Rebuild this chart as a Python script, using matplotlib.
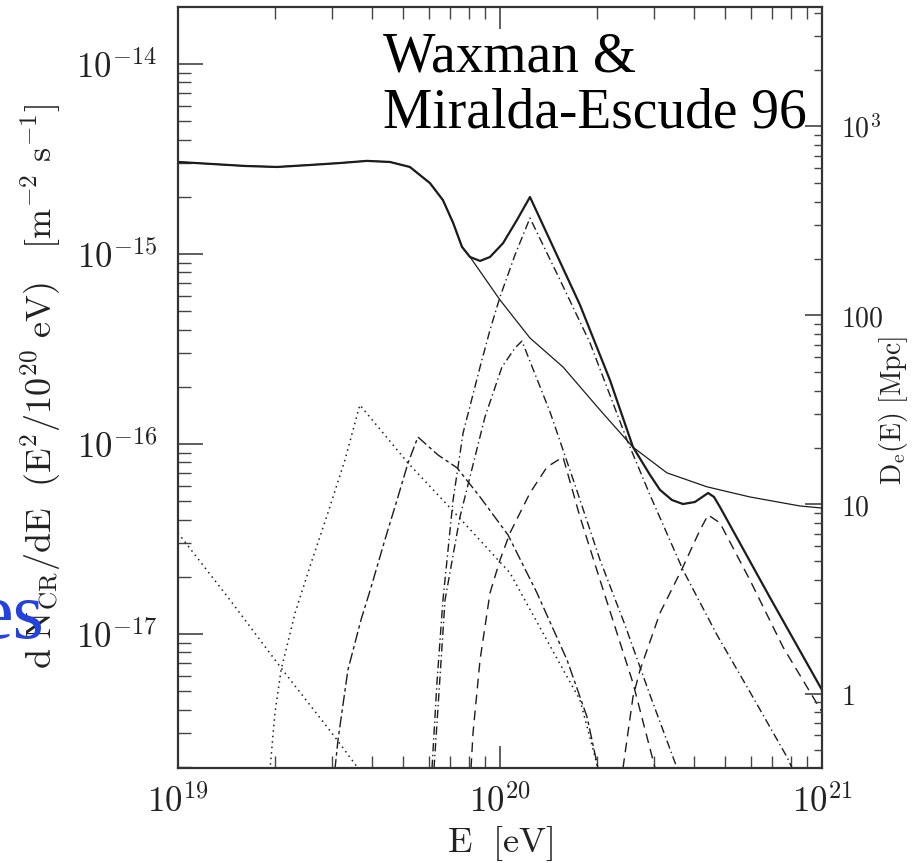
import numpy as np
import matplotlib.pyplot as plt
from matplotlib.ticker import NullFormatter

plt.rcParams['mathtext.fontset'] = 'cm'

# energies in units of 1e20 eV, fluxes in units of 1e-16 m^-2 s^-1

# total spectrum (thick solid)
E_tot = [0.100, 0.126, 0.162, 0.203, 0.257, 0.318, 0.386, 0.455, 0.525, 0.606, 0.665, 0.715,
         0.762, 0.807, 0.867, 0.931, 1.022, 1.129, 1.239, 1.772, 2.195, 2.588, 2.923, 3.14,
         3.42, 3.70, 4.03, 4.43, 4.62, 4.82, 6.90, 10.0]
F_tot = [30.5, 29.8, 29.05, 28.7, 29.4, 30.1, 30.9, 30.5, 28.7, 23.6, 19.2, 14.6,
         10.9, 9.64, 9.19, 9.64, 11.4, 15.1, 19.95, 5.39, 2.17, 0.964, 0.687, 0.573,
         0.507, 0.483, 0.495, 0.552, 0.526, 0.466, 0.155, 0.0507]

# energy loss distance D_e(E) in Mpc (thin solid, right axis)
E_dist = [0.100, 0.126, 0.162, 0.203, 0.257, 0.318, 0.386, 0.455, 0.525, 0.606, 0.665, 0.715,
          0.762, 0.807, 1.000, 1.239, 1.569, 2.045, 2.588, 3.30, 4.395, 5.975, 8.545, 10.0]
D_dist = [649, 633, 618, 611, 626, 641, 657, 649, 611, 502, 408, 309,
          230, 204, 120.8, 76.0, 53.4, 31.6, 20.1, 14.7, 12.4, 10.96, 9.82, 9.58]

# single-source contributions
E_c1 = [0.100, 0.145, 0.209, 0.307, 0.362, 0.381]
F_c1 = [0.340, 0.151, 0.0662, 0.0287, 0.0197, 0.0175]

E_c2 = [0.193, 0.200, 0.209, 0.231, 0.259, 0.292, 0.330, 0.367, 0.518, 0.642, 0.768, 1.074,
        1.482, 1.772, 2.015]
F_c2 = [0.0192, 0.0384, 0.0646, 0.129, 0.236, 0.433, 0.824, 1.604, 0.794, 0.539, 0.389, 0.2095,
        0.0775, 0.0449, 0.0197]

E_c3 = [0.307, 0.314, 0.337, 0.370, 0.398, 0.439, 0.482, 0.518, 0.556, 0.642, 0.736, 0.867,
        1.059, 1.303, 1.615, 1.863, 2.015]
F_c3 = [0.0192, 0.0277, 0.0646, 0.1185, 0.1768, 0.3125, 0.526, 0.794, 1.088, 0.875, 0.748, 0.526,
        0.332, 0.1643, 0.0730, 0.0366, 0.0197]

E_c4 = [0.615, 0.637, 0.665, 0.715, 0.768, 0.867, 0.931, 1.0, 1.113, 1.239, 1.536, 1.904, 2.48,
        2.923, 3.70, 4.72, 5.975, 7.785, 8.07]
F_c4 = [0.0197, 0.0552, 0.151, 0.507, 1.143, 2.54, 3.98, 5.94, 9.88, 15.46, 7.30, 3.40, 1.05,
        0.539, 0.2172, 0.0988, 0.0495, 0.0225, 0.0197]

E_c5 = [0.624, 0.675, 0.751, 0.898, 1.014, 1.113, 1.170, 1.430, 1.710, 2.045, 2.444, 2.923, 3.546]
F_c5 = [0.0197, 0.151, 0.413, 1.387, 2.54, 3.20, 3.48, 1.474, 0.608, 0.245, 0.1115, 0.0477, 0.0197]

E_c6 = [0.813, 0.8245, 0.867, 0.931, 1.0, 1.074, 1.239, 1.400, 1.569, 1.772, 2.045, 2.588, 3.03]
F_c6 = [0.0197, 0.0301, 0.0730, 0.1643, 0.245, 0.340, 0.552, 0.757, 0.854, 0.413, 0.192, 0.0552,
        0.0197]

E_c7 = [2.41, 2.588, 2.722, 3.14, 3.70, 4.18, 4.43, 4.82, 5.975, 7.565, 9.376, 10.0]
F_c7 = [0.0197, 0.0466, 0.0646, 0.129, 0.2253, 0.3527, 0.423, 0.384, 0.192, 0.0854, 0.0466, 0.0389]

x_ticks = [1e19, 1e20, 1e21]
x_labels = [r'$10^{19}$', r'$10^{20}$', r'$10^{21}$']
y_ticks = [1e-17, 1e-16, 1e-15, 1e-14]
y_labels = [r'$10^{-17}$', r'$10^{-16}$', r'$10^{-15}$', r'$10^{-14}$']
d_ticks = [1, 10, 100, 1000]
d_labels = [r'$1$', r'$10$', r'$100$', r'$10^3$']

ink = '#1c1c1c'
fig = plt.figure(figsize=(9.21, 8.63), dpi=100)
ax = fig.add_axes([178/921, 95/863, 644/921, 761/863])
ax.set_xscale('log')
ax.set_yscale('log')

def xy(E, F):
    return np.array(E) * 1e20, np.array(F) * 1e-16

ax.plot(*xy(E_tot, F_tot), color=ink, lw=1.6)
ax.plot(*xy(E_c1, F_c1), color=ink, lw=1.1, ls=(0, (1, 2.6)))
ax.plot(*xy(E_c2, F_c2), color=ink, lw=1.1, ls=(0, (1, 2.6)))
ax.plot(*xy(E_c3, F_c3), color=ink, lw=1.0, ls=(0, (8, 2.5, 2.5, 2.5)))
ax.plot(*xy(E_c4, F_c4), color=ink, lw=1.0, ls=(0, (6, 2.5, 1, 2.5)))
ax.plot(*xy(E_c5, F_c5), color=ink, lw=1.0, ls=(0, (6, 2.5, 1, 2.5)))
ax.plot(*xy(E_c6, F_c6), color=ink, lw=1.0, ls=(0, (7, 4.5)))
ax.plot(*xy(E_c7, F_c7), color=ink, lw=1.0, ls=(0, (7, 4.5)))

ax.set_xlim(1e19, 1e21)
ax.set_ylim(1.97e-18, 1.995e-14)
ax.set_xticks(x_ticks, labels=x_labels)
ax.set_yticks(y_ticks, labels=y_labels)
ax.xaxis.set_minor_formatter(NullFormatter())
ax.yaxis.set_minor_formatter(NullFormatter())
ax.tick_params(axis='x', which='major', direction='in', length=16, width=1.1, top=True,
               labelsize=25, pad=12, colors='#333333', labelcolor='#222222')
ax.tick_params(axis='x', which='minor', direction='in', length=8.5, width=1.0, top=True,
               colors='#444444')
ax.tick_params(axis='y', which='major', direction='in', length=18, width=1.1, right=False,
               labelsize=25, pad=15, colors='#333333', labelcolor='#222222')
ax.tick_params(axis='y', which='minor', direction='in', length=9.5, width=1.0, right=False,
               colors='#444444')
for s in ax.spines.values():
    s.set_linewidth(1.6)
    s.set_color('#333333')

# right axis: D_e(E)
ax2 = ax.twinx()
ax2.set_yscale('log')
ax2.plot(np.array(E_dist) * 1e20, D_dist, color=ink, lw=0.9)
ax2.set_ylim(0.4036, 4285)
ax2.set_yticks(d_ticks, labels=d_labels)
ax2.yaxis.set_minor_formatter(NullFormatter())
ax2.tick_params(axis='y', which='major', direction='in', length=12, width=1.1,
                labelsize=20, pad=14, colors='#333333', labelcolor='#222222')
ax2.tick_params(axis='y', which='minor', direction='in', length=6, width=1.0, colors='#444444')
for s in ax2.spines.values():
    s.set_visible(False)

fig.text(41/921, 1 - 386/863, r'$\mathrm{d\ N_{CR}/dE\ \ (E^2/10^{20}\ eV)\quad [m^{-2}\ s^{-1}]}$',
         rotation=90, ha='center', va='center', fontsize=26, color='#222222')
fig.text(500/921, 1 - 843/863, r'$\mathrm{E\ \ [eV]}$', ha='center', va='center',
         fontsize=26, color='#222222')
fig.text(893/921, 1 - 411/863, r'$\mathrm{D_e(E)\ [Mpc]}$', rotation=90, ha='center',
         va='center', fontsize=20, color='#222222')

fig.text(383/921, 1 - 72/863, 'Waxman &', fontsize=40, family='Liberation Serif',
         va='baseline', ha='left')
fig.text(383/921, 1 - 127/863, 'Miralda-Escude 96', fontsize=40, family='Liberation Serif',
         va='baseline', ha='left')
fig.text(45/921, 1 - 638/863, 'es', fontsize=58, family=['Liberation Serif', 'DejaVu Serif'],
         color='#2342e0', va='baseline', ha='right')

fig.savefig('out.png', dpi=100)
